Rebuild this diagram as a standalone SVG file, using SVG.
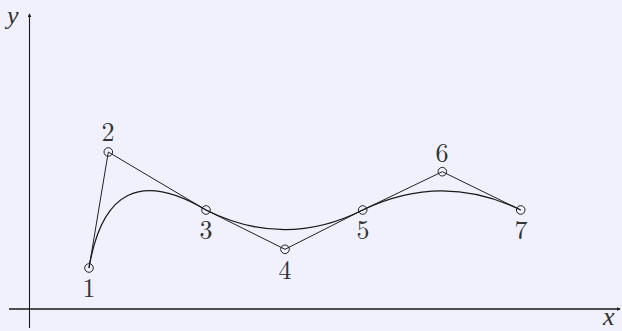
<svg xmlns="http://www.w3.org/2000/svg" width="622" height="331" viewBox="0 0 622 331">
<style>
.ax{stroke:#1a1a1a;fill:none}
.poly{stroke:#222;stroke-width:1;fill:none}
.curve{stroke:#1a1a1a;stroke-width:1.3;fill:none}
.pt{stroke:#222;stroke-width:1;fill:none}
.lbl{font-family:"Latin Modern Roman","Liberation Serif",serif;font-size:26px;fill:#333;text-anchor:middle}
.var{font-family:"Liberation Serif",serif;font-style:italic;font-size:26px;fill:#333}
</style>
<defs>
<marker id="ah" viewBox="0 0 6 6" refX="5" refY="3" markerWidth="4" markerHeight="4" orient="auto" markerUnits="userSpaceOnUse">
<path d="M0,0 L6,3 L0,6 z" fill="#1a1a1a"/>
</marker>
</defs>
<rect width="622" height="331" fill="#f1f1fd"/>
<g id="axes">
<line class="ax" x1="9" y1="309" x2="620" y2="309" stroke-width="1.7" marker-end="url(#ah)"/>
<line class="ax" x1="29.5" y1="328" x2="29.5" y2="14" stroke-width="1.1" marker-end="url(#ah)"/>
<text class="var" x="7" y="24">y</text>
<text class="var" x="603" y="325">x</text>
</g>
<g id="connectors">
<polyline class="poly" points="89,268 108.3,152 206,210 285,249.3 362.7,210 442.3,171.7 520.7,210"/>
<path class="curve" d="M89,268 Q108.3,152 206,210 Q285,249.3 362.7,210 Q442.3,171.7 520.7,210"/>
</g>
<g id="p1"><circle class="pt" cx="89" cy="268" r="4.3"/><text class="lbl" x="89" y="297">1</text></g>
<g id="p2"><circle class="pt" cx="108.3" cy="152" r="4.3"/><text class="lbl" x="108" y="141">2</text></g>
<g id="p3"><circle class="pt" cx="206" cy="210" r="4.3"/><text class="lbl" x="206" y="239">3</text></g>
<g id="p4"><circle class="pt" cx="285" cy="249.3" r="4.3"/><text class="lbl" x="285" y="279">4</text></g>
<g id="p5"><circle class="pt" cx="362.7" cy="210" r="4.3"/><text class="lbl" x="363" y="239">5</text></g>
<g id="p6"><circle class="pt" cx="442.3" cy="171.7" r="4.3"/><text class="lbl" x="442" y="162">6</text></g>
<g id="p7"><circle class="pt" cx="520.7" cy="210" r="4.3"/><text class="lbl" x="521" y="239">7</text></g>
</svg>
